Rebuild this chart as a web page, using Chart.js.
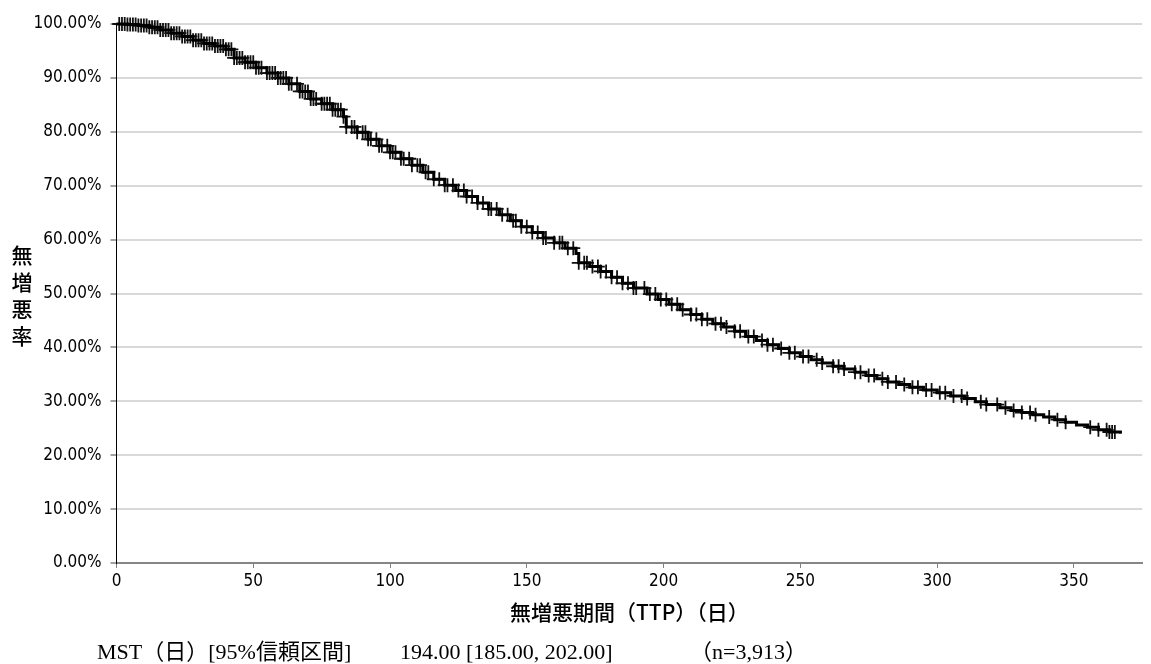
<!DOCTYPE html>
<html>
<head>
<meta charset="utf-8">
<script src="https://cdn.jsdelivr.net/npm/chart.js@4.4.1/dist/chart.umd.min.js"></script>
<style>
  html, body { margin: 0; padding: 0; background: #fff; }
  canvas { display: block; }
</style>
</head>
<body>
<canvas id="km" width="1151" height="664"></canvas>
<script>
// Kaplan-Meier steps (day, % progression free)
const kmDays = [0, 4, 8, 12, 16, 20, 24, 28, 32, 36, 40, 43, 47, 51, 55, 59, 63, 67, 71, 75,
  79, 83, 84, 88, 92, 96, 100, 104, 108, 112, 116, 120, 124, 128, 132, 136, 140, 144, 148, 152,
  156, 160, 164, 168, 169, 173, 177, 181, 185, 189, 194, 198, 202, 206, 210, 214, 218, 222, 226, 230,
  234, 238, 242, 246, 250, 254, 258, 262, 266, 270, 274, 278, 282, 286, 290, 295, 300, 305, 310, 314,
  318, 323, 327, 331, 335, 339, 343, 347, 351, 355, 359, 363, 367];
const kmSurv = [100, 99.9, 99.7, 99.4, 98.9, 98.3, 97.7, 97.0, 96.4, 95.9, 95.3, 93.7, 92.9, 91.9, 90.9, 90.0, 88.9, 87.5, 86.1, 85.2,
  84.1, 82.8, 80.9, 79.9, 78.6, 77.4, 76.2, 75.0, 73.8, 72.5, 71.2, 70.1, 69.1, 68.0, 66.8, 65.7, 64.6, 63.5, 62.4, 61.3,
  60.3, 59.4, 58.4, 57.4, 55.7, 55.0, 54.1, 53.0, 51.9, 51.0, 49.9, 48.9, 48.0, 47.0, 46.1, 45.2, 44.4, 43.8, 43.0, 42.0,
  41.3, 40.5, 39.8, 39.0, 38.3, 37.7, 37.1, 36.5, 36.0, 35.4, 34.8, 34.2, 33.6, 33.1, 32.6, 32.1, 31.6, 31.0, 30.5, 29.9,
  29.4, 28.8, 28.3, 27.9, 27.5, 27.1, 26.6, 26.1, 25.6, 25.2, 24.7, 24.3, 24.0];

// censored cases (day)
const censorDays = [1, 2, 3, 4, 5, 6, 7, 8, 9, 10, 11, 12, 13, 14, 15, 16, 17, 18, 19, 20,
  21, 22, 23, 24, 25, 26, 27, 28, 29, 30, 31, 32, 33, 34, 35, 36, 37, 38, 39, 40,
  41, 42, 43, 44, 45, 46, 47, 48, 49, 50, 51, 52, 53, 55, 56, 57, 58, 59, 60, 61,
  62, 63, 64, 66, 67, 68, 69, 70, 71, 72, 73, 75, 76, 77, 78, 79, 80, 81, 82, 83,
  84, 86, 87, 88, 90, 91, 92, 93, 95, 96, 97, 99, 100, 101, 102, 104, 105, 107, 108, 110,
  111, 113, 114, 116, 118, 120, 121, 123, 125, 127, 128, 130, 132, 134, 136, 137, 139, 141, 143, 145,
  146, 148, 150, 152, 154, 156, 157, 160, 162, 163, 165, 167, 169, 171, 172, 174, 176, 177, 179, 181,
  183, 185, 187, 189, 190, 193, 195, 197, 199, 201, 203, 205, 207, 210, 212, 214, 216, 219, 221, 223,
  226, 228, 231, 233, 236, 238, 240, 243, 246, 248, 251, 253, 256, 258, 262, 264, 266, 270, 272, 275,
  277, 280, 282, 285, 288, 291, 293, 296, 298, 301, 303, 306, 309, 311, 316, 318, 322, 325, 328, 331,
  334, 336, 341, 344, 347, 356, 359, 362, 363, 364, 365];

const xTicks = [0, 50, 100, 150, 200, 250, 300, 350];
const yTicks = [0, 10, 20, 30, 40, 50, 60, 70, 80, 90, 100];
const yTitleChars = ['無', '増', '悪', '率'];
const xTitle = '無増悪期間（TTP）（日）';
const footerParts = ['MST（日）[95%信頼区間]', '194.00 [185.00, 202.00]', '（n=3,913）'];

// survival value at a censor time = current step of the curve
function survAt(t) {
  let s = kmSurv[0];
  for (let i = 0; i < kmDays.length; i++) {
    if (kmDays[i] <= t) s = kmSurv[i];
  }
  return s;
}

const tickFont = { family: "'DejaVu Sans Condensed', 'Liberation Sans Narrow', 'Noto Sans CJK JP', sans-serif", size: 17 };

const extraText = {
  id: 'extraText',
  afterDraw(chart) {
    const ctx = chart.ctx;
    ctx.save();
    ctx.fillStyle = '#000';
    ctx.textAlign = 'center';
    ctx.textBaseline = 'middle';
    ctx.font = "500 21px 'Noto Sans CJK JP'";
    yTitleChars.forEach((ch, i) => ctx.fillText(ch, 22, 255 + i * 27));

    ctx.textAlign = 'left';
    ctx.textBaseline = 'alphabetic';
    ctx.font = "22px 'Liberation Serif', 'Noto Sans CJK JP', serif";
    const xs = [97, 400, 690];
    footerParts.forEach((t, i) => ctx.fillText(t, xs[i], 659));
    ctx.restore();
  }
};

new Chart(document.getElementById('km'), {
  type: 'line',
  data: {
    datasets: [
      {
        label: 'TTP',
        data: kmDays.map((d, i) => ({ x: d, y: kmSurv[i] })),
        stepped: 'before',
        borderColor: '#000',
        borderWidth: 3,
        pointRadius: 0,
        fill: false,
        clip: false
      },
      {
        label: 'censored',
        data: censorDays.map(d => ({ x: d, y: survAt(d) })),
        showLine: false,
        pointStyle: 'cross',
        pointRadius: 7,
        pointBorderWidth: 1.8,
        pointBorderColor: '#111',
        pointBackgroundColor: '#111',
        clip: false
      }
    ]
  },
  options: {
    responsive: false,
    animation: false,
    layout: { padding: { top: 24, right: 1, left: 0, bottom: 0 } },
    plugins: {
      legend: { display: false },
      tooltip: { enabled: false }
    },
    scales: {
      x: {
        type: 'linear',
        min: 0,
        max: 375,
        afterFit: s => { s.height = 101; },
        afterBuildTicks: s => { s.ticks = xTicks.map(v => ({ value: v })); },
        grid: { drawOnChartArea: false, drawTicks: true, tickLength: 5, tickColor: '#808080', tickWidth: 1 },
        border: { color: '#868686', width: 2 },
        ticks: { color: '#000', font: tickFont, padding: 3, maxRotation: 0 },
        title: {
          display: true,
          text: xTitle,
          color: '#000',
          font: { family: "'Noto Sans CJK JP', sans-serif", size: 21, weight: '500' },
          padding: { top: 2, bottom: 39 }
        }
      },
      y: {
        min: 0,
        max: 100,
        afterFit: s => { s.width = 116.5; },
        afterBuildTicks: s => { s.ticks = yTicks.map(v => ({ value: v })); },
        grid: { color: '#d9d9d9', lineWidth: 2, tickLength: 6, tickColor: '#444', tickWidth: 1 },
        border: { color: '#000', width: 1 },
        ticks: {
          color: '#000',
          font: tickFont,
          padding: 9,
          callback: v => v.toFixed(2) + '%'
        }
      }
    }
  },
  plugins: [extraText]
});
</script>
</body>
</html>
